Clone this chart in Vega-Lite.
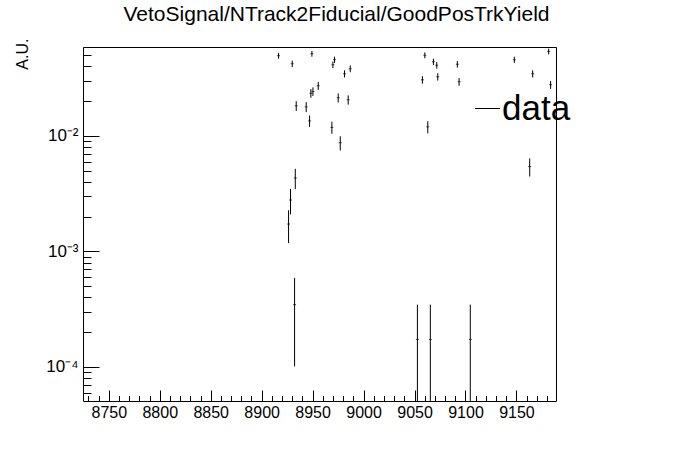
{
  "$schema": "https://vega.github.io/schema/vega-lite/v6.json",
  "autosize": {"type": "none"},
  "width": 473,
  "height": 354,
  "padding": {"left": 83, "top": 47, "right": 140, "bottom": 71},
  "background": "white",
  "config": {
    "font": "Liberation Sans",
    "view": {"stroke": "black", "strokeWidth": 1},
    "axis": {"domain": false, "grid": false, "tickColor": "black", "labelColor": "black", "titleColor": "black", "labelFont": "Liberation Sans", "titleFont": "Liberation Sans", "titleFontWeight": "normal"}
  },
  "title": {
    "text": "VetoSignal/NTrack2Fiducial/GoodPosTrkYield",
    "font": "Liberation Sans",
    "fontSize": 21,
    "fontWeight": "normal",
    "color": "black",
    "anchor": "middle",
    "frame": "group",
    "dx": 17,
    "offset": 13
  },
  "data": {
    "values": [
      {"run": 8916.6, "y": 0.04943, "lo": 0.04651, "hi": 0.05235},
      {"run": 8930.0, "y": 0.04212, "lo": 0.03942, "hi": 0.04482},
      {"run": 8949.3, "y": 0.05142, "lo": 0.04844, "hi": 0.05440},
      {"run": 8971.5, "y": 0.04562, "lo": 0.04281, "hi": 0.04843},
      {"run": 8969.9, "y": 0.04128, "lo": 0.03861, "hi": 0.04395},
      {"run": 8981.3, "y": 0.03449, "lo": 0.03205, "hi": 0.03693},
      {"run": 8986.9, "y": 0.03813, "lo": 0.03556, "hi": 0.04070},
      {"run": 8955.5, "y": 0.02715, "lo": 0.02498, "hi": 0.02932},
      {"run": 8950.3, "y": 0.02422, "lo": 0.02217, "hi": 0.02627},
      {"run": 8948.3, "y": 0.02336, "lo": 0.02135, "hi": 0.02537},
      {"run": 8975.1, "y": 0.02136, "lo": 0.01944, "hi": 0.02328},
      {"run": 8984.9, "y": 0.02052, "lo": 0.01864, "hi": 0.02240},
      {"run": 8933.9, "y": 0.01820, "lo": 0.01643, "hi": 0.01997},
      {"run": 8943.7, "y": 0.01784, "lo": 0.01608, "hi": 0.01960},
      {"run": 8947.0, "y": 0.01349, "lo": 0.01196, "hi": 0.01502},
      {"run": 8968.9, "y": 0.01185, "lo": 0.01042, "hi": 0.01328},
      {"run": 8977.1, "y": 0.00870, "lo": 0.007473, "hi": 0.009927},
      {"run": 9060.1, "y": 0.04990, "lo": 0.04696, "hi": 0.05284},
      {"run": 9068.5, "y": 0.04384, "lo": 0.04109, "hi": 0.04659},
      {"run": 9071.8, "y": 0.04087, "lo": 0.03821, "hi": 0.04353},
      {"run": 9092.0, "y": 0.04170, "lo": 0.03901, "hi": 0.04439},
      {"run": 9057.7, "y": 0.03059, "lo": 0.02829, "hi": 0.03289},
      {"run": 9072.8, "y": 0.03248, "lo": 0.03011, "hi": 0.03485},
      {"run": 9093.7, "y": 0.02939, "lo": 0.02714, "hi": 0.03165},
      {"run": 9063.0, "y": 0.01197, "lo": 0.01053, "hi": 0.01341},
      {"run": 9147.9, "y": 0.04562, "lo": 0.04281, "hi": 0.04843},
      {"run": 9165.9, "y": 0.03449, "lo": 0.03205, "hi": 0.03693},
      {"run": 9181.6, "y": 0.05384, "lo": 0.05079, "hi": 0.05689},
      {"run": 9183.5, "y": 0.02769, "lo": 0.02550, "hi": 0.02988},
      {"run": 9163.0, "y": 0.005417, "lo": 0.004449, "hi": 0.006385},
      {"run": 8933.0, "y": 0.004322, "lo": 0.003457, "hi": 0.005187},
      {"run": 8928.3, "y": 0.002785, "lo": 0.002091, "hi": 0.003479},
      {"run": 8926.4, "y": 0.001725, "lo": 0.001179, "hi": 0.002271},
      {"run": 8932.3, "y": 0.000346, "lo": 0.000101, "hi": 0.000591},
      {"run": 9052.8, "y": 0.000173, "lo": 0.000000001, "hi": 0.000346},
      {"run": 9065.5, "y": 0.000173, "lo": 0.000000001, "hi": 0.000346},
      {"run": 9104.7, "y": 0.000173, "lo": 0.000000001, "hi": 0.000346}
    ]
  },
  "layer": [
    {
      "mark": {"type": "rule", "strokeWidth": 1, "clip": true},
      "encoding": {
        "x": {"field": "run", "type": "quantitative", "scale": {"domain": [8724.7, 9188.8], "nice": false, "zero": false},
          "axis": {"orient": "bottom", "values": [8750, 8800, 8850, 8900, 8950, 9000, 9050, 9100, 9150], "format": "d", "tickSize": -11, "labelPadding": 14, "labelFontSize": 16, "title": null}},
        "y": {"field": "lo", "type": "quantitative", "scale": {"type": "log", "domain": [0.0000507, 0.0588], "nice": false},
          "axis": {"orient": "left", "values": [0.0001, 0.001, 0.01], "tickSize": -16, "labelPadding": 21, "labelFontSize": 17,
            "labelExpr": "datum.value < 0.0005 ? '10⁻⁴' : datum.value < 0.005 ? '10⁻³' : '10⁻²'",
            "title": "A.U.", "titleFontSize": 16, "titleAnchor": "end", "titleAngle": 270, "titleAlign": "right", "titleBaseline": "middle", "titleX": -61, "titleY": -9}},
        "y2": {"field": "hi"},
        "stroke": {"datum": "data", "scale": {"range": ["black"]},
          "legend": {"orient": "none", "legendX": 387, "legendY": 44, "symbolType": "stroke", "symbolSize": 620, "symbolStrokeWidth": 1, "symbolStrokeColor": "black", "labelFontSize": 35, "labelFont": "Liberation Sans", "labelColor": "black", "title": null, "padding": 0, "labelOffset": -3}}
      }
    },
    {
      "mark": {"type": "tick", "orient": "horizontal", "size": 3, "thickness": 1, "color": "black", "clip": true},
      "encoding": {
        "x": {"field": "run", "type": "quantitative",
          "axis": {"orient": "bottom", "values": [8730, 8740, 8760, 8770, 8780, 8790, 8810, 8820, 8830, 8840, 8860, 8870, 8880, 8890, 8910, 8920, 8930, 8940, 8960, 8970, 8980, 8990, 9010, 9020, 9030, 9040, 9060, 9070, 9080, 9090, 9110, 9120, 9130, 9140, 9160, 9170, 9180], "tickSize": -5.5, "labels": false, "title": null}},
        "y": {"field": "y", "type": "quantitative",
          "axis": {"orient": "left", "values": [0.00006, 0.00007, 0.00008, 0.00009, 0.0002, 0.0003, 0.0004, 0.0005, 0.0006, 0.0007, 0.0008, 0.0009, 0.002, 0.003, 0.004, 0.005, 0.006, 0.007, 0.008, 0.009, 0.02, 0.03, 0.04, 0.05], "tickSize": -8, "labels": false, "title": null}}
      }
    }
  ],
  "resolve": {"axis": {"x": "independent", "y": "independent"}}
}
